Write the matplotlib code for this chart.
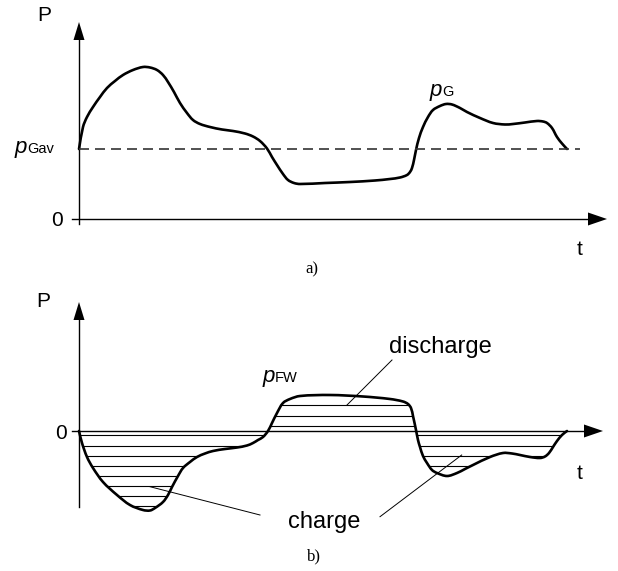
import numpy as np
import matplotlib
matplotlib.use('Agg')
import matplotlib.pyplot as plt
from matplotlib.patches import Polygon, PathPatch
from matplotlib.path import Path

plt.rcParams['font.family'] = ['Liberation Sans', 'DejaVu Sans']

# a) generator power p_G(t) and its average
t_gen = [0, .04, .08, .14, .21, .28, .36, .44, .54, .64, .71, .78, .84, .89, .95,
         1.01, 1.08, 1.14, 1.21, 1.31, 1.43, 1.54, 1.66, 1.74, 1.81, 1.88, 1.93,
         1.98, 2.04, 2.09, 2.15, 2.21, 2.46, 2.71, 2.96, 3.11, 3.21, 3.28, 3.31,
         3.33, 3.35, 3.37, 3.40, 3.44, 3.49, 3.54, 3.61, 3.67, 3.73, 3.81, 3.88,
         4.01, 4.14, 4.26, 4.34, 4.46, 4.58, 4.64, 4.68, 4.73, 4.78, 4.83, 4.88]
p_gen = [.70, .92, 1.02, 1.12, 1.22, 1.31, 1.38, 1.44, 1.49, 1.52, 1.515, 1.49,
         1.44, 1.37, 1.27, 1.16, 1.06, .99, .95, .92, .895, .88, .855, .825, .78,
         .705, .62, .54, .45, .39, .36, .35, .36, .37, .385, .40, .415, .44, .47,
         .51, .59, .69, .81, .92, 1.02, 1.09, 1.13, 1.15, 1.145, 1.11, 1.07, 1.01,
         .96, .945, .95, .965, .98, .975, .96, .91, .82, .755, .70]
p_gav = 0.70

# b) flywheel power p_FW(t) = p_Gav - p_G
t_fw = [0, .03, .08, .14, .24, .38, .51, .64, .71, .76, .84, .89, .93, .99, 1.04,
        1.11, 1.18, 1.26, 1.34, 1.46, 1.58, 1.68, 1.74, 1.79, 1.84, 1.89, 1.93,
        1.98, 2.04, 2.11, 2.21, 2.51, 2.84, 3.11, 3.24, 3.29, 3.32, 3.34, 3.37,
        3.39, 3.41, 3.44, 3.48, 3.53, 3.58, 3.68, 3.78, 3.86, 3.94, 4.11, 4.24,
        4.33, 4.41, 4.51, 4.61, 4.66, 4.70, 4.74, 4.78, 4.83, 4.88]
p_fw = [0, -.12, -.26, -.37, -.51, -.64, -.74, -.79, -.795, -.77, -.71, -.64,
        -.56, -.45, -.37, -.31, -.26, -.225, -.20, -.18, -.165, -.145, -.12, -.09,
        -.06, 0, .08, .18, .28, .32, .35, .36, .345, .32, .295, .27, .23, .15, .01,
        -.09, -.16, -.25, -.32, -.39, -.42, -.45, -.42, -.38, -.34, -.26, -.22,
        -.225, -.24, -.26, -.27, -.255, -.22, -.16, -.10, -.04, 0]
hatch_levels = [.26, .155, .05, -.04, -.15, -.25, -.35, -.45, -.55, -.65, -.75]


def smooth_path(x, y):
    # cubic Bezier through the given points (tangent from neighbours)
    pts = np.column_stack([x, y]).astype(float)
    n = len(pts)
    tang = np.zeros_like(pts)
    for i in range(n):
        a = pts[max(i - 1, 0)]
        b = pts[min(i + 1, n - 1)]
        d = b - a
        tang[i] = d / np.hypot(*d)
    verts = [pts[0]]
    codes = [Path.MOVETO]
    for i in range(n - 1):
        seg = np.hypot(*(pts[i + 1] - pts[i])) / 3
        verts += [pts[i] + tang[i] * seg, pts[i + 1] - tang[i + 1] * seg, pts[i + 1]]
        codes += [Path.CURVE4] * 3
    return Path(verts, codes)


fig = plt.figure(figsize=(6.18, 5.71), dpi=100)
ax_a = fig.add_axes([0, 286 / 571, 1, 285 / 571])
ax_b = fig.add_axes([0, 0, 1, 286 / 571])
ax_a.set_xlim(-0.79, 5.39)
ax_a.set_ylim(-0.66, 2.19)
ax_b.set_xlim(-0.79, 5.39)
ax_b.set_ylim(-1.40, 1.46)
for ax in (ax_a, ax_b):
    ax.axis('off')


def draw_axes(ax, y_bottom, y_tip, x_tip):
    # coordinate axes with filled arrow heads
    ax.plot([0, 0], [y_bottom, y_tip - 0.1], color='k', lw=1.0)
    ax.fill([-0.055, 0.055, 0], [y_tip - 0.18, y_tip - 0.18, y_tip], color='k', lw=0)
    ax.plot([-0.07, x_tip - 0.1], [0, 0], color='k', lw=1.0)
    ax.fill([x_tip - 0.19, x_tip - 0.19, x_tip], [-0.065, 0.065, 0], color='k', lw=0)


# ---------------- a) ----------------
draw_axes(ax_a, -0.05, 1.97, 5.28)
ax_a.plot([0, 5.01], [p_gav, p_gav], color='#333333', lw=1.2, dashes=(6, 3.6))
ax_a.add_patch(PathPatch(smooth_path(t_gen, p_gen), fill=False, edgecolor='k',
                         lw=1.9, joinstyle='round', capstyle='round'))

ax_a.text(-0.35, 1.98, 'P', fontsize=15, ha='center', va='baseline')
ax_a.text(-0.16, -0.07, '0', fontsize=15, ha='right', va='baseline')
ax_a.text(-0.52, 0.66, 'p', fontsize=16, style='italic', ha='right', va='baseline')
ax_a.text(-0.52, 0.66, 'Gav', fontsize=10.5, ha='left', va='baseline')
ax_a.text(3.51, 1.23, 'p', fontsize=16, style='italic', ha='left', va='baseline')
ax_a.text(3.63, 1.23, 'G', fontsize=10.5, ha='left', va='baseline')
ax_a.text(5.005, -0.36, 't', fontsize=15, ha='center', va='baseline')
ax_a.text(2.325, -0.505, 'a)', fontsize=12, family='Liberation Serif',
          ha='center', va='center')

# ---------------- b) ----------------
draw_axes(ax_b, -0.76, 1.29, 5.24)

region = Polygon(np.column_stack([t_fw, p_fw]), closed=True, fill=False,
                 edgecolor='none')
ax_b.add_patch(region)
for lev in hatch_levels:
    hl = ax_b.axhline(lev, color='k', lw=0.8)
    hl.set_clip_path(region)

ax_b.add_patch(PathPatch(smooth_path(t_fw, p_fw), fill=False, edgecolor='k',
                         lw=1.9, joinstyle='round', capstyle='round'))

ax_b.text(-0.355, 1.24, 'P', fontsize=15, ha='center', va='baseline')
ax_b.text(-0.12, -0.08, '0', fontsize=15, ha='right', va='baseline')
ax_b.text(1.84, 0.49, 'p', fontsize=16, style='italic', ha='left', va='baseline')
ax_b.text(1.96, 0.49, 'FW', fontsize=10.5, ha='left', va='baseline')
ax_b.text(5.005, -0.48, 't', fontsize=15, ha='center', va='baseline')
ax_b.text(3.10, 0.78, 'discharge', fontsize=17, ha='left', va='baseline')
ax_b.text(2.09, -0.97, 'charge', fontsize=17, ha='left', va='baseline')
ax_b.plot([3.13, 2.68], [0.71, 0.26], color='k', lw=0.7)
ax_b.plot([0.71, 1.81], [-0.557, -0.84], color='k', lw=0.7)
ax_b.plot([3.827, 3.01], [-0.24, -0.857], color='k', lw=0.7)
ax_b.text(2.345, -1.25, 'b)', fontsize=12, family='Liberation Serif',
          ha='center', va='center')

fig.savefig('out.png', dpi=100)
